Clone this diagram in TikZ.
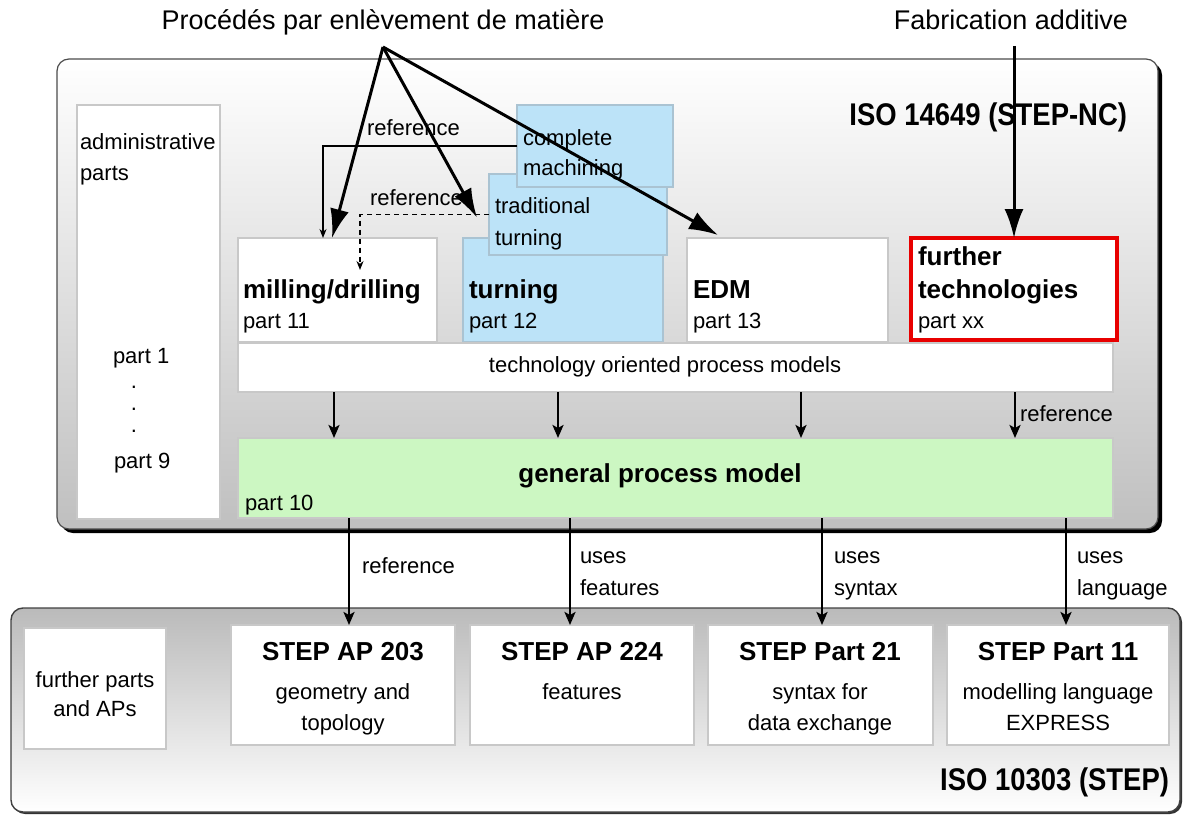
\documentclass[tikz,border=0pt]{standalone}
\usepackage{fontspec}
\setmainfont{Liberation Sans}
\usetikzlibrary{arrows.meta,shadows}
\definecolor{bluefill}{RGB}{188,227,248}
\definecolor{bluedraw}{RGB}{170,195,210}
\definecolor{greenfill}{RGB}{204,247,194}
\definecolor{boxgray}{RGB}{200,200,200}
\definecolor{redline}{RGB}{232,0,0}
\begin{document}
\begin{tikzpicture}[x=1pt,y=-1pt,
  reg/.style={inner sep=0, outer sep=0, font=\fontsize{22}{26}\selectfont},
  bld/.style={inner sep=0, outer sep=0, font=\fontsize{26}{30}\selectfont\bfseries},
  big/.style={inner sep=0, outer sep=0, font=\fontsize{27}{32}\selectfont},
  iso/.style={inner sep=0, outer sep=0, font=\fontsize{28}{32}\selectfont\bfseries},
  box/.style={anchor=north west, inner sep=0, outer sep=0, draw=boxgray, line width=1.2, fill=white},
  bluebx/.style={box, fill=bluefill, draw=bluedraw},
  upframe/.style={anchor=north west, inner sep=0, outer sep=0, rounded corners=12, draw=black!70, line width=1.2,
     top color=white, bottom color=black!25,
     general shadow={fill=black, shadow xshift=4pt, shadow yshift=-4pt}},
  lowframe/.style={anchor=north west, inner sep=0, outer sep=0, rounded corners=12, draw=black!75, line width=1.4,
     top color=black!27, bottom color=white,
     general shadow={fill=black!80, shadow xshift=2pt, shadow yshift=-2pt}},
  bigarrow/.style={-{Latex[length=29pt,width=19pt]}, line width=3},
  dnarrow/.style={-{Stealth[length=13pt,width=11pt,inset=3pt]}, line width=2.4},
  refarrow/.style={-{Stealth[length=9pt,width=7pt]}, line width=1.4}
]
\useasboundingbox (0,0) rectangle (1186,816);

% ---------- frames ----------
\node[upframe, minimum width=1101, minimum height=470] (upper) at (57,59) {};
\node[lowframe, minimum width=1169, minimum height=204] (lower) at (11,608) {};

% ---------- upper boxes ----------
\node[box, minimum width=143, minimum height=414] (admin) at (77,105) {};
\node[box, minimum width=199, minimum height=104] (mill) at (238,238) {};
\node[bluebx, minimum width=200, minimum height=104] (turn) at (463,238) {};
\node[bluebx, minimum width=178, minimum height=81] (trad) at (489,174) {};
\node[bluebx, minimum width=156, minimum height=82] (complete) at (517,105) {};
\node[box, minimum width=201, minimum height=104] (edm) at (687,238) {};
\node[box, draw=redline, line width=3.5, minimum width=206, minimum height=102] (ftech) at (911,238) {};
\node[box, minimum width=875, minimum height=49] (tech) at (238,343) {};
\node[box, fill=greenfill, draw=boxgray, minimum width=875, minimum height=80] (gen) at (238,438) {};

% ---------- lower boxes ----------
\node[box, minimum width=142, minimum height=121] (fparts) at (24,628) {};
\node[box, minimum width=224, minimum height=120] (ap203) at (231,625) {};
\node[box, minimum width=224, minimum height=120] (ap224) at (470,625) {};
\node[box, minimum width=225, minimum height=120] (p21) at (708,625) {};
\node[box, minimum width=222, minimum height=120] (p11) at (947,625) {};

% ---------- upper texts ----------
\node[iso, anchor=base east] (iso1) at (1127,125) {\scalebox{0.98}[1.12]{ISO 14649 (STEP-NC)}};
\node[reg, anchor=base west] (adm1) at (80,149) {administrative};
\node[reg, anchor=base west] (adm2) at (80,180) {parts};
\node[reg, anchor=base west] (pt1) at (113,363) {part 1};
\node[anchor=north, inner sep=0, outer sep=0, align=center, font=\fontsize{22}{22}\selectfont] (dots) at (134,386) {.\\.\\.};
\node[reg, anchor=base west] (pt9) at (114,468) {part 9};

\node[bld, anchor=base west] (millt) at (243,298) {milling/drilling};
\node[reg, anchor=base west] (millp) at (243,328) {part 11};
\node[bld, anchor=base west] (turnt) at (469,298) {turning};
\node[reg, anchor=base west] (turnp) at (469,328) {part 12};
\node[bld, anchor=base west] (edmt) at (693,298) {EDM};
\node[reg, anchor=base west] (edmp) at (693,328) {part 13};
\node[bld, anchor=base west] (ft1) at (918,265) {further};
\node[bld, anchor=base west] (ft2) at (918,298) {technologies};
\node[reg, anchor=base west] (ftp) at (918,328) {part xx};
\node[reg, anchor=base west] (cm1) at (523,145) {complete};
\node[reg, anchor=base west] (cm2) at (523,175) {machining};
\node[reg, anchor=base west] (tt1) at (495,213) {traditional};
\node[reg, anchor=base west] (tt2) at (495,245) {turning};
\node[reg, anchor=base west] (ref1) at (367,135) {reference};
\node[reg, anchor=base west] (ref2) at (370,205) {reference};
\node[reg, anchor=base] (techt) at (665,372) {technology oriented process models};
\node[bld, anchor=base] (gent) at (660,482) {general process model};
\node[reg, anchor=base west] (genp) at (245,510) {part 10};
\node[reg, anchor=base west] (ref3) at (1020,421) {reference};

% ---------- labels between frames ----------
\node[reg, anchor=base west] (ref4) at (362,573) {reference};
\node[reg, anchor=base west] (u1) at (580,563) {uses};
\node[reg, anchor=base west] (u1b) at (580,595) {features};
\node[reg, anchor=base west] (u2) at (834,563) {uses};
\node[reg, anchor=base west] (u2b) at (834,595) {syntax};
\node[reg, anchor=base west] (u3) at (1077,563) {uses};
\node[reg, anchor=base west] (u3b) at (1077,595) {language};

% ---------- lower texts ----------
\node[reg, anchor=base] (fp1) at (95,687) {further parts};
\node[reg, anchor=base] (fp2) at (95,716) {and APs};
\node[bld, anchor=base] (a203) at (343,660) {STEP AP 203};
\node[reg, anchor=base] (a203a) at (343,699) {geometry and};
\node[reg, anchor=base] (a203b) at (343,730) {topology};
\node[bld, anchor=base] (a224) at (582,660) {STEP AP 224};
\node[reg, anchor=base] (a224a) at (582,699) {features};
\node[bld, anchor=base] (s21) at (820,660) {STEP Part 21};
\node[reg, anchor=base] (s21a) at (820,699) {syntax for};
\node[reg, anchor=base] (s21b) at (820,730) {data exchange};
\node[bld, anchor=base] (s11) at (1058,660) {STEP Part 11};
\node[reg, anchor=base] (s11a) at (1058,699) {modelling language};
\node[reg, anchor=base] (s11b) at (1058,730) {EXPRESS};
\node[iso, anchor=base east] (iso2) at (1169,790) {\scalebox{0.98}[1.12]{ISO 10303 (STEP)}};

% ---------- top labels ----------
\node[big, anchor=base] (proc) at (383,30) {Procédés par enlèvement de matière};
\node[big, anchor=base] (fab) at (1011,30) {Fabrication additive};

% ---------- reference connectors ----------
\draw[refarrow] (complete.west) -| ([xshift=85pt]mill.north west);
\draw[refarrow, dash pattern=on 5pt off 4pt] (trad.west) -| ([shift={(122,32)}]mill.north west);

% ---------- tech -> general ----------
\foreach \dx in {96,320,563,777}
  \draw[dnarrow] ([xshift=\dx pt]tech.south west) -- ([xshift=\dx pt]gen.north west);

% ---------- general -> STEP ----------
\draw[dnarrow] ([xshift=111pt]gen.south west) -- ([xshift=118pt]ap203.north west);
\draw[dnarrow] ([xshift=332pt]gen.south west) -- ([xshift=100pt]ap224.north west);
\draw[dnarrow] ([xshift=584pt]gen.south west) -- ([xshift=114pt]p21.north west);
\draw[dnarrow] ([xshift=828pt]gen.south west) -- ([xshift=119pt]p11.north west);

% ---------- top arrows ----------
\coordinate (apex) at (383,47);
\draw[bigarrow] (apex) -- ([xshift=94pt]mill.north west);
\draw[bigarrow] (apex) -- ([shift={(-12,3)}]trad.west);
\draw[bigarrow] (apex) -- ([shift={(31,-3)}]edm.north west);
\coordinate (fabs) at (1014,46);
\draw[bigarrow] (fabs) -- (fabs |- ftech.north);
\end{tikzpicture}
\end{document}
